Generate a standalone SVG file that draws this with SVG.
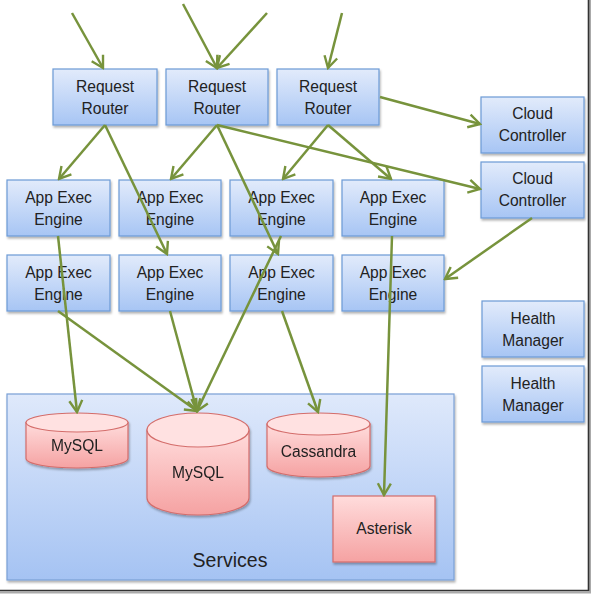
<svg xmlns="http://www.w3.org/2000/svg" width="592" height="594" viewBox="0 0 592 594">
<defs>
<linearGradient id="gBlue" x1="0" y1="0" x2="0" y2="1">
<stop offset="0" stop-color="#E2EBFB"/><stop offset="1" stop-color="#A7C5F4"/>
</linearGradient>
<linearGradient id="gSvc" x1="0" y1="0" x2="0" y2="1">
<stop offset="0" stop-color="#DFE9FB"/><stop offset="1" stop-color="#A5C3F3"/>
</linearGradient>
<linearGradient id="gPink" x1="0" y1="0" x2="0" y2="1">
<stop offset="0" stop-color="#FFDCDC"/><stop offset="1" stop-color="#F5A2A2"/>
</linearGradient>
<filter id="sh" x="-10%" y="-10%" width="130%" height="140%">
<feDropShadow dx="1" dy="2" stdDeviation="1.3" flood-color="#000" flood-opacity="0.3"/>
</filter>
<marker id="ah" viewBox="0 0 16 16" refX="14" refY="8" markerWidth="16" markerHeight="16" markerUnits="userSpaceOnUse" orient="auto">
<path d="M2.5,1.5 L14,8 L2.5,14.5" fill="none" stroke="#77933C" stroke-width="2.4"/>
</marker>
<style>
.box{fill:url(#gBlue);stroke:#6C9AD6;stroke-width:1.2;filter:url(#sh)}
.svc{fill:url(#gSvc);stroke:#7AA0D6;stroke-width:1.2;filter:url(#sh)}
.db{fill:url(#gPink);stroke:#D46D6B;stroke-width:1.2}
.dbtop{fill:#FFE1E1;stroke:#D46D6B;stroke-width:1.2}
.t{font-family:"Liberation Sans",Arial,sans-serif;font-size:15.6px;fill:#222;text-anchor:middle}
.big{font-size:19.5px}
.c line{stroke:#77933C;stroke-width:2.5;marker-end:url(#ah)}
</style>
</defs>
<rect width="592" height="594" fill="#fff"/>
<line x1="590" y1="0" x2="590" y2="592" stroke="#aaa" stroke-width="2"/>
<line x1="0" y1="592.5" x2="591" y2="592.5" stroke="#aaa" stroke-width="2"/>
<line x1="588.5" y1="0" x2="588.5" y2="591" stroke="#333" stroke-width="1.6"/>
<line x1="0" y1="590.5" x2="589" y2="590.5" stroke="#333" stroke-width="1.6"/>

<g id="services">
<rect class="svc" x="7" y="394" width="447" height="186"/>
<text class="t big" x="230" y="567">Services</text>
</g>
<g id="mysql1" filter="url(#sh)">
<path class="db" d="M26,422.5 V458.5 A51,9.5 0 0 0 128,458.5 V422.5 Z"/>
<ellipse class="dbtop" cx="77" cy="422.5" rx="51" ry="9.5"/>
<text class="t" x="77" y="451">MySQL</text>
</g>
<g id="mysql2" filter="url(#sh)">
<path class="db" d="M147,430 V498 A51,17 0 0 0 249,498 V430 Z"/>
<ellipse class="dbtop" cx="198" cy="430" rx="51" ry="17"/>
<text class="t" x="198" y="478">MySQL</text>
</g>
<g id="cassandra" filter="url(#sh)">
<path class="db" d="M267,424 V466 A51.5,11 0 0 0 370,466 V424 Z"/>
<ellipse class="dbtop" cx="318.5" cy="424" rx="51.5" ry="11"/>
<text class="t" x="318.5" y="457">Cassandra</text>
</g>
<g id="asterisk">
<rect class="db" x="333" y="496" width="102" height="66" filter="url(#sh)"/>
<text class="t" x="384" y="534">Asterisk</text>
</g>

<g id="rr1"><rect class="box" x="53" y="69" width="104" height="56"/><text class="t" x="105" y="92">Request</text><text class="t" x="105" y="114">Router</text></g>
<g id="rr2"><rect class="box" x="166" y="69" width="102" height="56"/><text class="t" x="217" y="92">Request</text><text class="t" x="217" y="114">Router</text></g>
<g id="rr3"><rect class="box" x="277" y="69" width="102" height="56"/><text class="t" x="328" y="92">Request</text><text class="t" x="328" y="114">Router</text></g>
<g id="cc1"><rect class="box" x="481" y="97" width="103" height="56"/><text class="t" x="532.5" y="119">Cloud</text><text class="t" x="532.5" y="141">Controller</text></g>
<g id="cc2"><rect class="box" x="481" y="162" width="103" height="56"/><text class="t" x="532.5" y="184">Cloud</text><text class="t" x="532.5" y="206">Controller</text></g>
<g id="ae1"><rect class="box" x="7" y="180" width="103" height="56"/><text class="t" x="58.5" y="203">App Exec</text><text class="t" x="58.5" y="225">Engine</text></g>
<g id="ae2"><rect class="box" x="119" y="180" width="102" height="56"/><text class="t" x="170" y="203">App Exec</text><text class="t" x="170" y="225">Engine</text></g>
<g id="ae3"><rect class="box" x="230" y="180" width="103" height="56"/><text class="t" x="281.5" y="203">App Exec</text><text class="t" x="281.5" y="225">Engine</text></g>
<g id="ae4"><rect class="box" x="342" y="180" width="102" height="56"/><text class="t" x="393" y="203">App Exec</text><text class="t" x="393" y="225">Engine</text></g>
<g id="ae5"><rect class="box" x="7" y="255" width="103" height="56"/><text class="t" x="58.5" y="278">App Exec</text><text class="t" x="58.5" y="300">Engine</text></g>
<g id="ae6"><rect class="box" x="119" y="255" width="102" height="56"/><text class="t" x="170" y="278">App Exec</text><text class="t" x="170" y="300">Engine</text></g>
<g id="ae7"><rect class="box" x="230" y="255" width="103" height="56"/><text class="t" x="281.5" y="278">App Exec</text><text class="t" x="281.5" y="300">Engine</text></g>
<g id="ae8"><rect class="box" x="342" y="255" width="102" height="56"/><text class="t" x="393" y="278">App Exec</text><text class="t" x="393" y="300">Engine</text></g>
<g id="hm1"><rect class="box" x="482" y="301" width="102" height="56"/><text class="t" x="533" y="324">Health</text><text class="t" x="533" y="346">Manager</text></g>
<g id="hm2"><rect class="box" x="482" y="366" width="102" height="56"/><text class="t" x="533" y="389">Health</text><text class="t" x="533" y="411">Manager</text></g>

<g id="connectors" class="c">
<line x1="72" y1="13" x2="103" y2="68"/>
<line x1="183" y1="4" x2="217" y2="68"/>
<line x1="267" y1="13" x2="217" y2="68"/>
<line x1="342" y1="13" x2="328" y2="68"/>
<line x1="105" y1="125" x2="59" y2="179"/>
<line x1="105" y1="125" x2="167" y2="254"/>
<line x1="217" y1="125" x2="171" y2="179"/>
<line x1="217" y1="125" x2="278" y2="254"/>
<line x1="217" y1="125" x2="480" y2="189"/>
<line x1="328" y1="125" x2="283" y2="179"/>
<line x1="328" y1="125" x2="391" y2="179"/>
<line x1="380" y1="97" x2="480" y2="124"/>
<line x1="532" y1="218" x2="445" y2="279"/>
<line x1="58" y1="236" x2="77" y2="412"/>
<line x1="58" y1="311" x2="197" y2="411"/>
<line x1="170" y1="311" x2="197" y2="411"/>
<line x1="281" y1="236" x2="197" y2="411"/>
<line x1="282" y1="311" x2="318" y2="412"/>
<line x1="392" y1="236" x2="384" y2="495"/>
</g>
</svg>
